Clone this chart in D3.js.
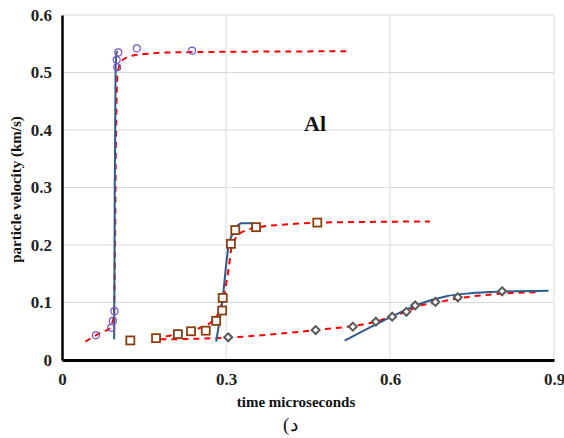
<!DOCTYPE html>
<html>
<head>
<meta charset="utf-8">
<script src="https://cdn.jsdelivr.net/npm/d3@7"></script>
<style>
  body { margin: 0; background: #fff; }
  svg text { font-family: "Liberation Serif", "Times New Roman", serif; font-weight: bold; }
</style>
</head>
<body>
<div id="chart"></div>
<script>
// experiment 1 (circles)
let circTime = [0.062, 0.090, 0.093, 0.096, 0.101, 0.100, 0.103, 0.137, 0.238];
let circVel = [0.043, 0.056, 0.068, 0.085, 0.509, 0.522, 0.535, 0.542, 0.538];
let fit1Time = [0.043, 0.062, 0.088, 0.095, 0.097, 0.099, 0.101, 0.106, 0.12, 0.15, 0.2, 0.3, 0.52];
let fit1Vel = [0.032, 0.043, 0.056, 0.08, 0.2, 0.4, 0.49, 0.515, 0.527, 0.532, 0.535, 0.536, 0.537];
let sim1Time = [0.0955, 0.0965, 0.098, 0.0995, 0.101];
let sim1Vel = [0.036, 0.3, 0.5, 0.532, 0.537];

// experiment 2 (squares)
let sqTime = [0.125, 0.172, 0.212, 0.236, 0.263, 0.282, 0.293, 0.294, 0.309, 0.317, 0.355, 0.467];
let sqVel = [0.034, 0.038, 0.045, 0.050, 0.051, 0.068, 0.086, 0.108, 0.202, 0.226, 0.231, 0.239];
let fit2Time = [0.17, 0.21, 0.25, 0.275, 0.29, 0.298, 0.305, 0.31, 0.32, 0.335, 0.36, 0.40, 0.47, 0.55, 0.673];
let fit2Vel = [0.037, 0.045, 0.055, 0.068, 0.09, 0.12, 0.16, 0.195, 0.215, 0.225, 0.231, 0.235, 0.239, 0.240, 0.241];
let sim2Time = [0.282, 0.293, 0.305, 0.316, 0.328, 0.350];
let sim2Vel = [0.032, 0.1, 0.2, 0.226, 0.238, 0.238];

// experiment 3 (diamonds)
let dmTime = [0.304, 0.464, 0.532, 0.574, 0.604, 0.630, 0.646, 0.683, 0.724, 0.805];
let dmVel = [0.0395, 0.052, 0.058, 0.0666, 0.0753, 0.0838, 0.0948, 0.101, 0.109, 0.1195];
let fit3Time = [0.18, 0.25, 0.304, 0.40, 0.464, 0.53, 0.575, 0.60, 0.63, 0.65, 0.685, 0.73, 0.80, 0.871];
let fit3Vel = [0.036, 0.037, 0.039, 0.046, 0.052, 0.059, 0.067, 0.075, 0.084, 0.093, 0.1, 0.108, 0.115, 0.118];
let sim3Time = [0.517, 0.603, 0.649, 0.703, 0.747, 0.808, 0.890];
let sim3Vel = [0.0336, 0.0753, 0.0957, 0.111, 0.116, 0.119, 0.1205];

let xTicks = [0, 0.3, 0.6, 0.9];
let yTicks = [0, 0.1, 0.2, 0.3, 0.4, 0.5, 0.6];

let margin = ({top: 15, right: 10, bottom: 78, left: 62});
let width = 564, height = 438;

let x = d3.scaleLinear().domain([0, 0.9]).range([margin.left, width - margin.right]);
let y = d3.scaleLinear().domain([0, 0.6]).range([height - margin.bottom, margin.top]);

let zip = (a, b) => a.map((d, i) => [d, b[i]]);

const svg = d3.select("#chart").append("svg")
  .attr("width", width).attr("height", height);

// grid
svg.append("g").selectAll("line").data(yTicks.slice(1)).join("line")
  .attr("x1", x(0)).attr("x2", x(0.9))
  .attr("y1", d => y(d)).attr("y2", d => y(d))
  .attr("stroke", "#d9d9d9").attr("stroke-width", 1);
svg.append("g").selectAll("line").data(xTicks.slice(1)).join("line")
  .attr("x1", d => x(d)).attr("x2", d => x(d))
  .attr("y1", y(0)).attr("y2", y(0.6))
  .attr("stroke", "#d9d9d9").attr("stroke-width", 1);

// axes
let fmt = d => d === 0 ? "0" : d3.format(".1f")(d);
let yAxis = g => g
  .attr("transform", `translate(${margin.left},0)`)
  .call(d3.axisLeft(y).tickValues(yTicks).tickSize(0).tickPadding(10).tickFormat(fmt))
  .call(g => g.select(".domain").attr("stroke", "#000").attr("stroke-width", 2.5));
let xAxis = g => g
  .attr("transform", `translate(0,${y(0)})`)
  .call(d3.axisBottom(x).tickValues(xTicks).tickSize(0).tickPadding(13).tickFormat(fmt))
  .call(g => g.select(".domain").attr("stroke", "#000").attr("stroke-width", 3));

svg.append("g").call(yAxis).attr("font-family", "Liberation Serif").attr("font-size", 17);
svg.append("g").call(xAxis).attr("font-family", "Liberation Serif").attr("font-size", 17);
svg.selectAll(".tick text")
  .attr("font-weight", "bold")
  .attr("fill", "#222");

let line = d3.line().x(d => x(d[0])).y(d => y(d[1])).curve(d3.curveMonotoneX);
let lineY = d3.line().x(d => x(d[0])).y(d => y(d[1])).curve(d3.curveMonotoneY);

// red dashed fits
[[fit1Time, fit1Vel, lineY], [fit2Time, fit2Vel, line], [fit3Time, fit3Vel, line]].forEach(function(s) {
  svg.append("path")
    .attr("d", s[2](zip(s[0], s[1])))
    .attr("fill", "none").attr("stroke", "#ff0000")
    .attr("stroke-width", 2).attr("stroke-dasharray", "6,5");
});

// blue simulations
[[sim1Time, sim1Vel, lineY], [sim2Time, sim2Vel, line], [sim3Time, sim3Vel, line]].forEach(function(s) {
  svg.append("path")
    .attr("d", s[2](zip(s[0], s[1])))
    .attr("fill", "none").attr("stroke", "#2f5b8c")
    .attr("stroke-width", 2);
});

// markers
svg.append("g").selectAll("circle").data(zip(circTime, circVel)).join("circle")
  .attr("cx", d => x(d[0])).attr("cy", d => y(d[1])).attr("r", 3.5)
  .attr("fill", "none").attr("stroke", "#7a52c7").attr("stroke-width", 1.2);

svg.append("g").selectAll("rect").data(zip(sqTime, sqVel)).join("rect")
  .attr("x", d => x(d[0]) - 4).attr("y", d => y(d[1]) - 4)
  .attr("width", 8).attr("height", 8)
  .attr("fill", "#fff").attr("stroke", "#8b3e0f").attr("stroke-width", 1.8);

svg.append("g").selectAll("path").data(zip(dmTime, dmVel)).join("path")
  .attr("d", d3.symbol(d3.symbolDiamond2, 40))
  .attr("transform", d => `translate(${x(d[0])},${y(d[1])})`)
  .attr("fill", "#fff").attr("stroke", "#595959").attr("stroke-width", 2);

// labels
svg.append("text")
  .attr("x", 315).attr("y", 131)
  .attr("text-anchor", "middle").attr("font-size", 22).attr("fill", "#111")
  .text("Al");

svg.append("text")
  .attr("transform", `translate(21,${(margin.top + y(0)) / 2 + 2}) rotate(-90)`)
  .attr("text-anchor", "middle").attr("font-size", 15).attr("fill", "#111")
  .text("particle velocity (km/s)");

svg.append("text")
  .attr("x", 296).attr("y", 407)
  .attr("text-anchor", "middle").attr("font-size", 15).attr("fill", "#111")
  .text("time microseconds");

// caption: paren and letter as separate chunks so bidi can't swap them
let cap = svg.append("text")
  .attr("y", 431).attr("font-size", 19).attr("fill", "#111")
  .style("font-weight", "normal");
cap.append("tspan").attr("x", 283).text("(");
cap.append("tspan").attr("x", 290).text("د");
</script>
</body>
</html>
